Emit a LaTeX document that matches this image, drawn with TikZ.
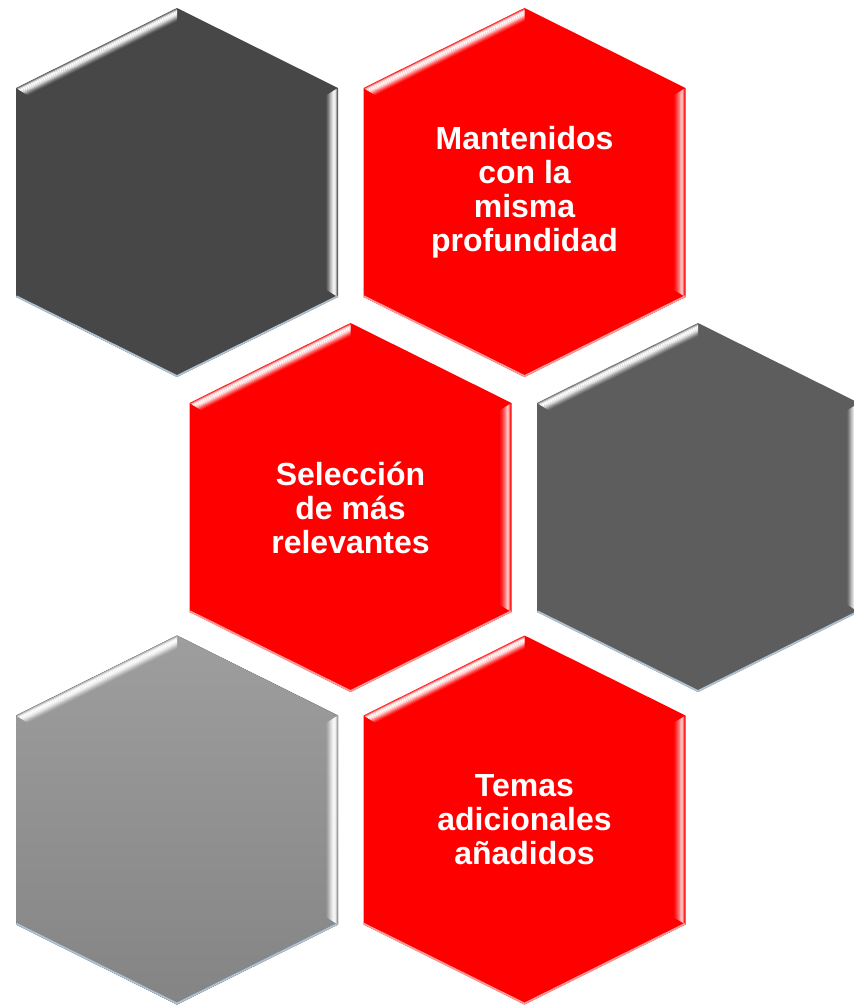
\documentclass[tikz,border=0pt]{standalone}
\usepackage{fontspec}
\setmainfont{Liberation Sans}

\definecolor{hexred}{HTML}{FF0000}
\definecolor{hexdark}{HTML}{474747}
\definecolor{hexmid}{HTML}{5D5D5D}
\definecolor{hexlighttop}{HTML}{9E9E9E}
\definecolor{hexlightbot}{HTML}{848484}
\definecolor{rimblue}{HTML}{AFC3D4}
\definecolor{rimpink}{HTML}{FF9A9A}

% hexagon cell: centre x, centre y, fill options, rim colour
\newcommand{\hexcell}[4]{%
  \fill[#3] (#1,#2-184.5) -- (#1+161,#2-104.5) -- (#1+161,#2+104.5) -- (#1,#2+184.5)
    -- (#1-161,#2+104.5) -- (#1-161,#2-104.5) -- cycle;
  % upper left bevel
  \begin{scope}
    \clip (#1,#2-184.5) -- (#1-161,#2-104.5) -- (#1-136,#2-89) -- (#1,#2-159.5) -- cycle;
    \foreach \d/\o in {1/0.3,2/0.7,3/0.95,4/1,5/0.95,6/0.85,7/0.7,8/0.5,9/0.35,10/0.2,11/0.1}
      \draw[white, opacity=\o, line width=1.1pt, shift={(0.445*\d,0.895*\d)}]
        (#1-201,#2-84.6) -- (#1+30,#2-199.4);
  \end{scope}
  % right bevel
  \begin{scope}
    \clip (#1+161,#2-104.5) -- (#1+161,#2+104.5) -- (#1+136,#2+89) -- (#1+136,#2-89) -- cycle;
    \foreach \d/\o in {1/0.15,2/0.45,3/0.7,4/0.75,5/0.65,6/0.5,7/0.4,8/0.3,9/0.2,10/0.12,11/0.06}
      \draw[white, opacity=\o, line width=1.1pt] (#1+161-\d,#2-150) -- (#1+161-\d,#2+150);
  \end{scope}
  % lower rim
  \begin{scope}
    \clip (#1,#2-184.5) -- (#1+161,#2-104.5) -- (#1+161,#2+104.5) -- (#1,#2+184.5)
      -- (#1-161,#2+104.5) -- (#1-161,#2-104.5) -- cycle;
    \draw[#4, line width=3.5pt] (#1-161,#2+104.5) -- (#1,#2+184.5) -- (#1+161,#2+104.5);
  \end{scope}
}

\begin{document}
\begin{tikzpicture}[x=1pt, y=-1pt,
    celltext/.style={text=white, font=\fontsize{32}{34}\selectfont\bfseries,
      align=center, inner sep=0pt}]
  \useasboundingbox (0,0) rectangle (854,1005);

  % top row
  \hexcell{177}{192.5}{hexdark}{rimblue}
  \hexcell{524.5}{192.5}{hexred}{rimpink}
  % middle row
  \hexcell{350.5}{507.5}{hexred}{rimpink}
  \hexcell{698}{507.5}{hexmid}{rimblue}
  % bottom row
  \hexcell{177}{820}{top color=hexlighttop, bottom color=hexlightbot}{rimblue}
  \hexcell{524.5}{820}{hexred}{rimpink}

  \node[celltext] (mantenidos) at (524.5,192.5) {Mantenidos\\con la\\misma\\profundidad};
  \node[celltext] (seleccion) at (350.5,507.5) {Selección\\de más\\relevantes};
  \node[celltext] (temas) at (524.5,820) {Temas\\adicionales\\añadidos};
\end{tikzpicture}
\end{document}
